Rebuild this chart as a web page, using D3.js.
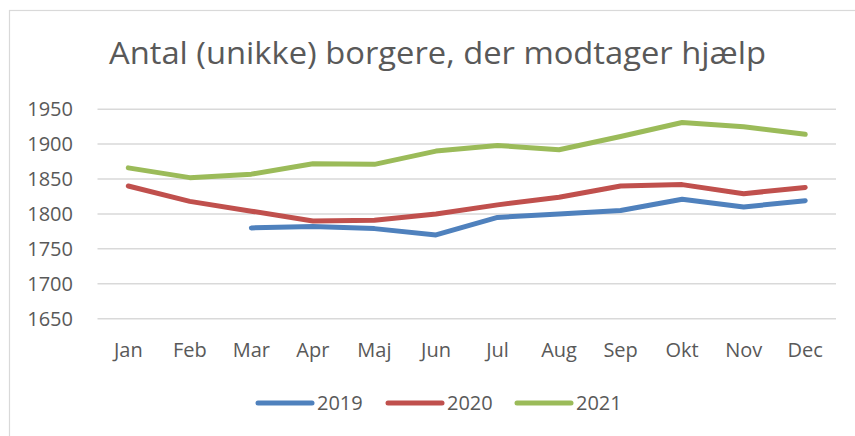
<!DOCTYPE html>
<html>
  <head>
    <meta charset="utf-8">
    <title>Antal borgere</title>
    <script src="https://d3js.org/d3.v7.min.js"></script>
    <style>
      body { margin: 0; background: #fff; }
      text { font-family: "Open Sans", sans-serif; fill: #595959; }
    </style>
  </head>
  <body>
    <script>
      // data
      var months = ["Jan", "Feb", "Mar", "Apr", "Maj", "Jun", "Jul", "Aug", "Sep", "Okt", "Nov", "Dec"];
      var y2019 = [null, null, 1780, 1782, 1779, 1770, 1795, 1800, 1805, 1821, 1810, 1819];
      var y2020 = [1840, 1818, 1804, 1790, 1791, 1800, 1813, 1824, 1840, 1842, 1829, 1838];
      var y2021 = [1866, 1852, 1857, 1872, 1871, 1890, 1898, 1892, 1911, 1931, 1925, 1914];
      var yTicks = [1650, 1700, 1750, 1800, 1850, 1900, 1950];
      var seriesNames = ["2019", "2020", "2021"];
      var colors = ["#4f81bd", "#c0504d", "#9bbb59"];

      var series = [y2019, y2020, y2021];

      var svg = d3.select("body").append("svg")
        .attr("width", 855)
        .attr("height", 436);

      // chart area border (only top and left are visible in the crop)
      svg.append("rect")
        .attr("x", 9.5).attr("y", 10.5)
        .attr("width", 900).attr("height", 500)
        .attr("fill", "none")
        .attr("stroke", "#d9d9d9")
        .attr("stroke-width", 1.2);

      var x = d3.scalePoint()
        .domain(months)
        .range([97.5, 836])
        .padding(0.5);

      var y = d3.scaleLinear()
        .domain([1650, 1950])
        .range([318.7, 109.2]);

      // gridlines
      svg.append("g").selectAll("line")
        .data(yTicks)
        .enter().append("line")
        .attr("x1", 97.5).attr("x2", 836)
        .attr("y1", y).attr("y2", y)
        .attr("stroke", "#d9d9d9")
        .attr("stroke-width", 1.5);

      // y labels
      svg.append("g").selectAll("text")
        .data(yTicks)
        .enter().append("text")
        .attr("x", 73)
        .attr("y", function(d) { return y(d); })
        .attr("dy", "0.36em")
        .attr("text-anchor", "end")
        .style("font-size", "20px")
        .text(function(d) { return d; });

      // month labels
      svg.append("g").selectAll("text")
        .data(months)
        .enter().append("text")
        .attr("x", function(d) { return x(d); })
        .attr("y", 357)
        .attr("text-anchor", "middle")
        .style("font-size", "20px")
        .text(function(d) { return d; });

      var line = d3.line()
        .defined(function(d) { return d != null; })
        .x(function(d, i) { return x(months[i]); })
        .y(function(d) { return y(d); });

      svg.append("g").selectAll("path")
        .data(series)
        .enter().append("path")
        .attr("d", line)
        .attr("fill", "none")
        .attr("stroke", function(d, i) { return colors[i]; })
        .attr("stroke-width", 5)
        .attr("stroke-linecap", "round")
        .attr("stroke-linejoin", "round");

      // legend
      var legendX = [258, 388, 517];
      var lg = svg.append("g").selectAll("g")
        .data(seriesNames)
        .enter().append("g")
        .attr("transform", function(d, i) { return "translate(" + legendX[i] + ",403)"; });
      lg.append("line")
        .attr("x1", 0).attr("x2", 54)
        .attr("stroke", function(d, i) { return colors[i]; })
        .attr("stroke-width", 5)
        .attr("stroke-linecap", "round");
      lg.append("text")
        .attr("x", 59)
        .attr("dy", "0.36em")
        .style("font-size", "20px")
        .text(function(d) { return d; });

      // title: calibri is narrower, so squeeze to the reference width
      svg.append("text")
        .attr("x", 109)
        .attr("y", 64)
        .attr("textLength", 657)
        .attr("lengthAdjust", "spacingAndGlyphs")
        .style("font-size", "31px")
        .text("Antal (unikke) borgere, der modtager hjælp");
    </script>
  </body>
</html>
